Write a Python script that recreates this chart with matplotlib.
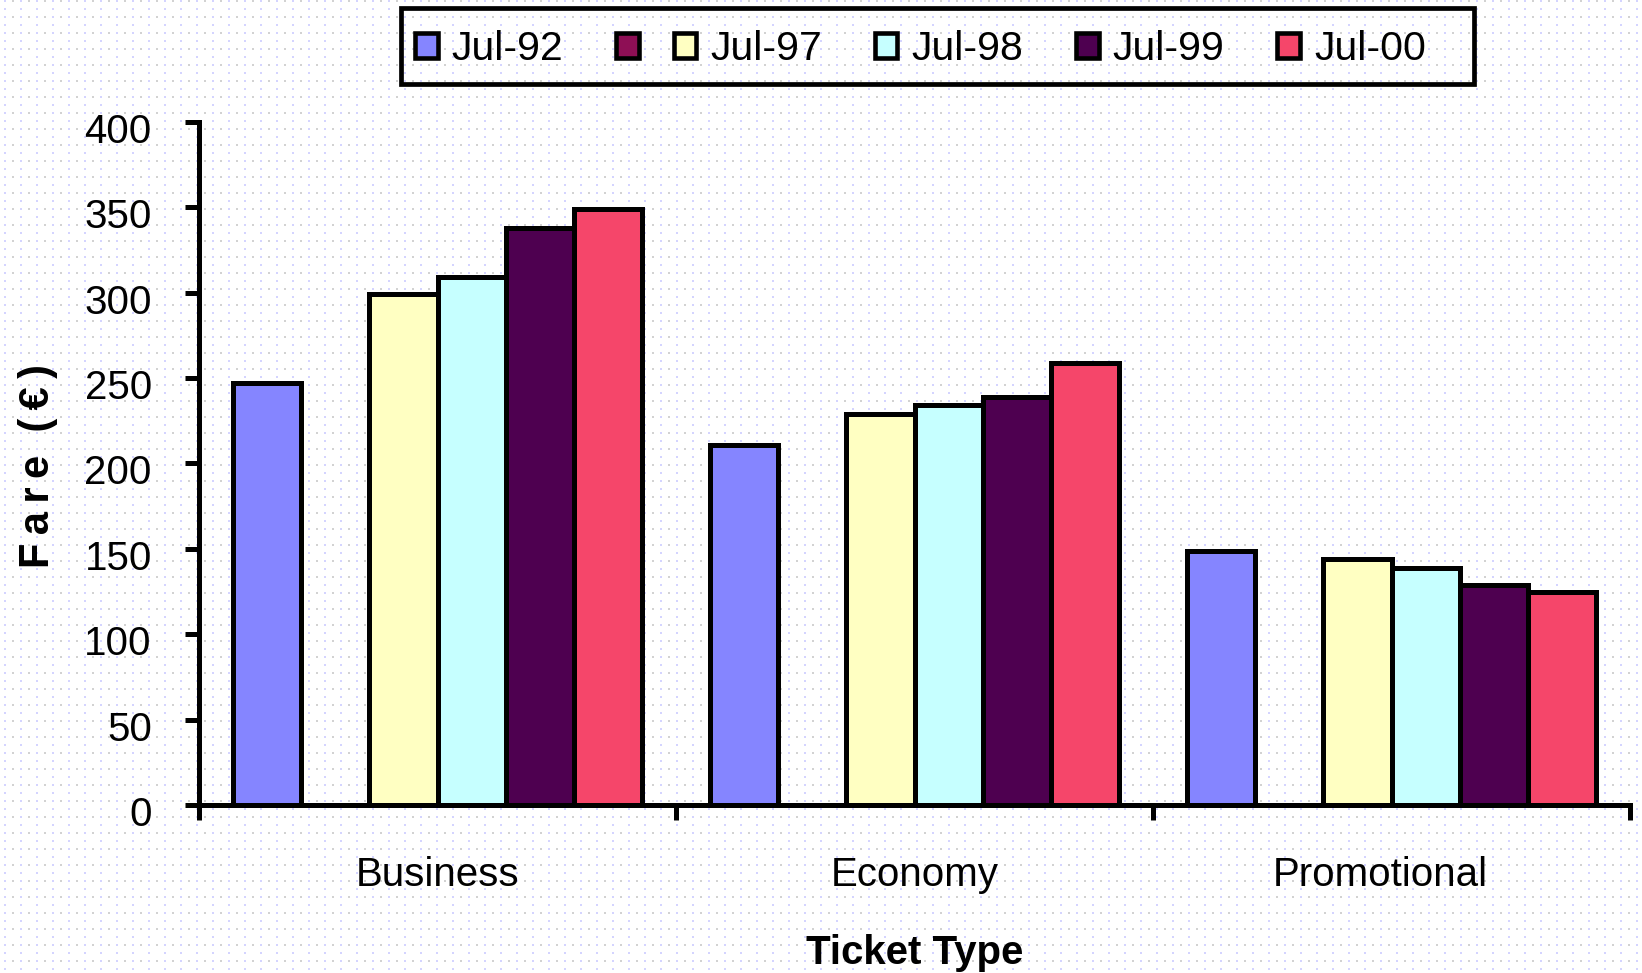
import numpy as np
import matplotlib
matplotlib.use("Agg")
import matplotlib.pyplot as plt
from matplotlib.patches import Patch, Rectangle
from matplotlib.transforms import ScaledTranslation

plt.rcParams['font.family'] = ['Liberation Sans', 'DejaVu Sans']

# Fare data by ticket type and survey date
categories = ["Business", "Economy", "Promotional"]
series_labels = ["Jul-92", "", "Jul-97", "Jul-98", "Jul-99", "Jul-00"]
jul92 = [247, 211, 149]
empty_series = [0, 0, 0]
jul97 = [299, 229, 144]
jul98 = [309, 234, 139]
jul99 = [338, 239, 129]
jul00 = [349, 259, 125]
y_ticks = [0, 50, 100, 150, 200, 250, 300, 350, 400]

series_values = [jul92, empty_series, jul97, jul98, jul99, jul00]
series_colors = ["#8585FF", "#8E0F55", "#FFFFC2", "#C6FFFF", "#4E0050", "#F5466A"]

W, H, DPI = 1642, 973, 100
fig = plt.figure(figsize=(W / DPI, H / DPI), dpi=DPI, facecolor="white")

# faint dotted backdrop
bg = np.ones((H, W, 3))
yy, xx = np.mgrid[0:H, 0:W]
lav = ((yy % 8) < 2) & ((xx % 16) >= 4) & ((xx % 16) < 6)
gry = ((yy % 16) < 2) & ((xx % 16) >= 12) & ((xx % 16) < 14)
bg[lav] = np.array([212, 212, 255]) / 255
bg[gry] = np.array([210, 210, 210]) / 255
fig.figimage(bg, xo=0, yo=0, zorder=-10, origin="upper")

ax = fig.add_axes([0.1212, 0.1727, 0.8715, 0.7019])
ax.set_facecolor("none")
ax.set_zorder(1)

n = len(series_values)
w = 1.0 / 7
x = np.arange(len(categories))
lw = 3.6
for i, (vals, col) in enumerate(zip(series_values, series_colors)):
    if i == 1:
        continue  # this series has no values
    ax.bar(x + (i - (n - 1) / 2) * w, vals, width=w, color=col,
           edgecolor="black", linewidth=lw, zorder=3)

ax.set_xlim(-0.5, 2.5)
ax.set_ylim(0, 400)

for s in ("top", "right"):
    ax.spines[s].set_visible(False)
for s in ("left", "bottom"):
    ax.spines[s].set_linewidth(lw)
    ax.spines[s].set_zorder(4)

ax.set_yticks(y_ticks)
ax.tick_params(axis="y", direction="out", length=10, width=lw,
               labelsize=29, pad=24)
down = ScaledTranslation(0, -0.06, fig.dpi_scale_trans)
for lab in ax.get_yticklabels():
    lab.set_transform(lab.get_transform() + down)

ax.set_xticks([-0.5, 0.5, 1.5, 2.5])
ax.set_xticklabels([])
ax.set_xticks(x, minor=True)
ax.set_xticklabels(categories, minor=True)
ax.tick_params(axis="x", which="major", direction="out", length=11, width=lw)
ax.tick_params(axis="x", which="minor", length=0, labelsize=29, pad=37)
last = ax.get_xticklabels(minor=True)[-1]
last.set_transform(last.get_transform() + ScaledTranslation(-0.115, 0, fig.dpi_scale_trans))

fig.text(0.557, 0.001, "Ticket Type", ha="center", va="bottom",
         fontsize=29, fontweight="bold")
fig.text(0.023, 0.521, "F\u2009a\u2009r\u2009e  (\u2009€\u2009)", ha="center", va="center",
         rotation=90, fontsize=30, fontweight="bold")

# legend box
fig.patches.append(Rectangle((401 / W, 1 - 84 / H), (1474 - 401) / W, 76 / H,
                             transform=fig.transFigure, facecolor="none",
                             edgecolor="black", linewidth=3.4, zorder=5))

fs_leg = 29.5
colsp = 1.28
handles = [Patch(facecolor=c, edgecolor="black", linewidth=3.3) for c in series_colors]
leg = fig.legend(handles, series_labels, loc="center left",
                 bbox_to_anchor=(415 / W, 0.9497), bbox_transform=fig.transFigure,
                 ncol=6, fontsize=fs_leg, frameon=False,
                 handlelength=0.55, handleheight=0.55,
                 handletextpad=0.35, columnspacing=colsp, borderpad=0,
                 borderaxespad=0)
# the unlabelled entry carries no text, so pull the next column closer
unlabelled = leg._legend_handle_box.get_children()[1].get_children()[0]
unlabelled.sep = 25.3 - colsp * fs_leg

fig.savefig("out.png", dpi=DPI, facecolor="white")
